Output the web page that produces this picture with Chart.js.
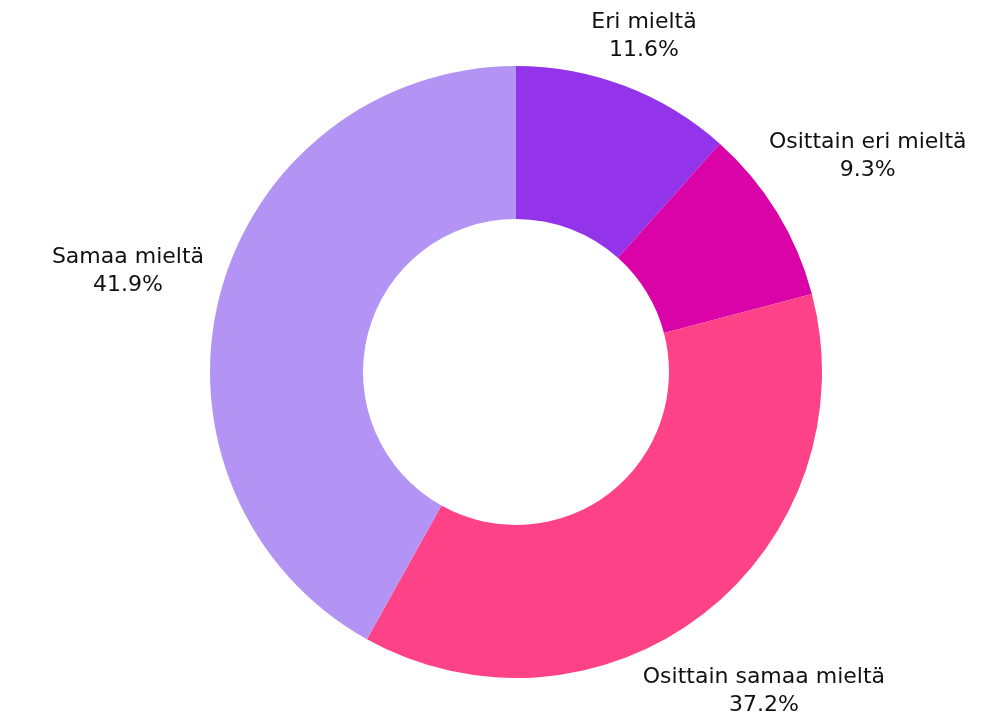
<!DOCTYPE html>
<html>
<head>
<meta charset="utf-8">
<script src="https://cdn.jsdelivr.net/npm/chart.js@4/dist/chart.umd.min.js"></script>
<style>
  html, body { margin: 0; padding: 0; background: #ffffff; }
  #wrap { width: 1003px; height: 719px; }
</style>
</head>
<body>
<div id="wrap"><canvas id="pieChart" width="1003" height="719"></canvas></div>
<script>
// data
const categories = ['Eri mieltä', 'Osittain eri mieltä', 'Osittain samaa mieltä', 'Samaa mieltä'];
const shares = [11.6, 9.3, 37.2, 41.9];
const sliceColors = ['#9333EA', '#DA03A7', '#FE4287', '#B394F5'];

const labelFont = '22px "DejaVu Sans"';
const lineHeight = 28;

// draws "name / xx.x%" outside each slice, pushed out along the middle angle
const outsideLabels = {
  id: 'outsideLabels',
  afterDatasetsDraw(chart) {
    const c = chart.ctx;
    const arcs = chart.getDatasetMeta(0).data;
    c.save();
    c.font = labelFont;
    c.fillStyle = '#111111';
    c.textAlign = 'center';
    c.textBaseline = 'middle';
    arcs.forEach((arc, i) => {
      const lines = [categories[i], shares[i].toFixed(1) + '%'];
      const w = Math.max(...lines.map(t => c.measureText(t).width));
      const h = lines.length * lineHeight;
      const mid = (arc.startAngle + arc.endAngle) / 2;
      const cos = Math.cos(mid), sin = Math.sin(mid);
      const ext = Math.sqrt(Math.pow(w / 2 * cos, 2) + Math.pow(h / 2 * sin, 2));
      const d = arc.outerRadius + 21 + ext;
      const cx = arc.x + cos * d;
      const cy = arc.y + sin * d;
      lines.forEach((t, k) => {
        c.fillText(t, cx, cy + (k - (lines.length - 1) / 2) * lineHeight);
      });
    });
    c.restore();
  }
};

const ctx = document.getElementById('pieChart').getContext('2d');
new Chart(ctx, {
  type: 'doughnut',
  data: {
    labels: categories,
    datasets: [{
      data: shares,
      backgroundColor: sliceColors,
      borderWidth: 0,
    }]
  },
  options: {
    responsive: false,
    animation: false,
    cutout: '50%',
    layout: {
      padding: { top: 66, bottom: 41, left: 210, right: 181 }
    },
    plugins: {
      legend: { display: false },
      tooltip: { enabled: false },
    }
  },
  plugins: [outsideLabels]
});
</script>
</body>
</html>
